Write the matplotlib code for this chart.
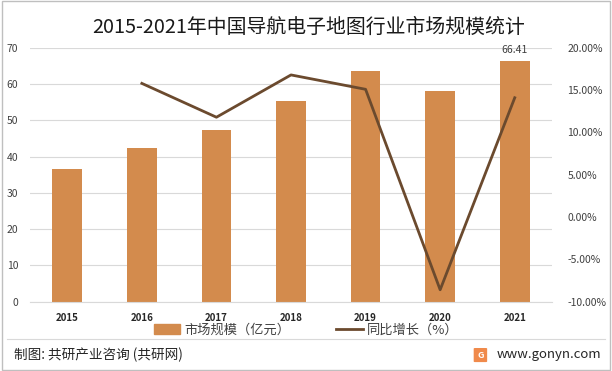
import matplotlib
matplotlib.use('Agg')
import matplotlib.pyplot as plt
import matplotlib.patches as patches
from matplotlib.lines import Line2D
from matplotlib.ticker import FuncFormatter

plt.rcParams['font.family'] = ['Noto Sans CJK SC', 'DejaVu Sans']

years = ['2015', '2016', '2017', '2018', '2019', '2020', '2021']
market_size = [36.6, 42.4, 47.4, 55.4, 63.7, 58.1, 66.41]
growth_years = ['2016', '2017', '2018', '2019', '2020', '2021']
growth = [15.8, 11.8, 16.8, 15.1, -8.6, 14.1]

bar_color = '#D38B4D'
line_color = '#6B4A2E'
text_color = '#404040'

fig = plt.figure(figsize=(6.12, 3.71), dpi=100)
ax = fig.add_axes([0.049, 0.187, 0.853, 0.684])

x = list(range(len(years)))
ax.bar(x, market_size, width=0.4, color=bar_color, zorder=2)
ax.set_xlim(-0.5, len(years) - 0.5)
ax.set_ylim(0, 70)
ax.set_yticks(range(0, 71, 10))
ax.yaxis.grid(True, color='#D9D9D9', linewidth=0.8, zorder=0)
ax.set_axisbelow(True)
for s in ['top', 'right', 'left']:
    ax.spines[s].set_visible(False)
ax.spines['bottom'].set_color('#D9D9D9')
ax.tick_params(axis='y', length=0, labelsize=7.5, labelcolor=text_color, pad=8.5)
ax.tick_params(axis='x', length=0, labelsize=7, labelcolor='#262626', pad=8)
ax.set_xticks(x)
ax.set_xticklabels(years, fontweight='bold')
ax.text(x[-1], market_size[-1] + 1.5, f'{market_size[-1]:.2f}', ha='center', va='bottom',
        fontsize=7.5, color=text_color)

ax2 = ax.twinx()
gx = [years.index(y) for y in growth_years]
ax2.plot(gx, growth, color=line_color, linewidth=2, zorder=3)
ax2.set_ylim(-10, 20)
ax2.set_yticks(range(-10, 21, 5))
ax2.yaxis.set_major_formatter(FuncFormatter(lambda v, p: f'{v:.2f}%'))
ax2.tick_params(axis='y', length=0, labelsize=7.5, labelcolor=text_color, pad=11)
for s in ax2.spines.values():
    s.set_visible(False)

fig.text(0.505, 0.925, '2015-2021年中国导航电子地图行业市场规模统计', ha='center', va='center',
         fontsize=14.3, color='#1a1a1a')

# legend
handles = [patches.Patch(color=bar_color, label='市场规模（亿元）'),
           Line2D([0], [0], color=line_color, linewidth=2, label='同比增长（%）')]
fig.legend(handles=handles, loc='center', bbox_to_anchor=(0.5, 0.11), ncol=2, frameon=False,
           fontsize=9.5, handlelength=2.0, columnspacing=3.5, handletextpad=0.3,
           labelcolor=text_color)

# footer
fig.add_artist(Line2D([0.012, 0.988], [0.086, 0.086], color='#D9D9D9', linewidth=0.8))
fig.text(0.023, 0.043, '制图: 共研产业咨询 (共研网)', ha='left', va='center', fontsize=9.8,
         color='#262626')
fig.add_artist(patches.FancyBboxPatch((0.776, 0.026), 0.018, 0.034, boxstyle='round,pad=0.002',
                                      facecolor='#F08A4B', edgecolor='none'))
fig.text(0.785, 0.043, 'G', ha='center', va='center', fontsize=6.5, color='white', fontweight='bold')
fig.text(0.982, 0.045, 'www.gonyn.com', ha='right', va='center', fontsize=9.5, color='#262626')

# border
fig.add_artist(patches.Rectangle((0.003, 0.004), 0.994, 0.992, fill=False, edgecolor='#BFBFBF',
                                 linewidth=1, transform=fig.transFigure))

fig.savefig('out.png', dpi=100)
